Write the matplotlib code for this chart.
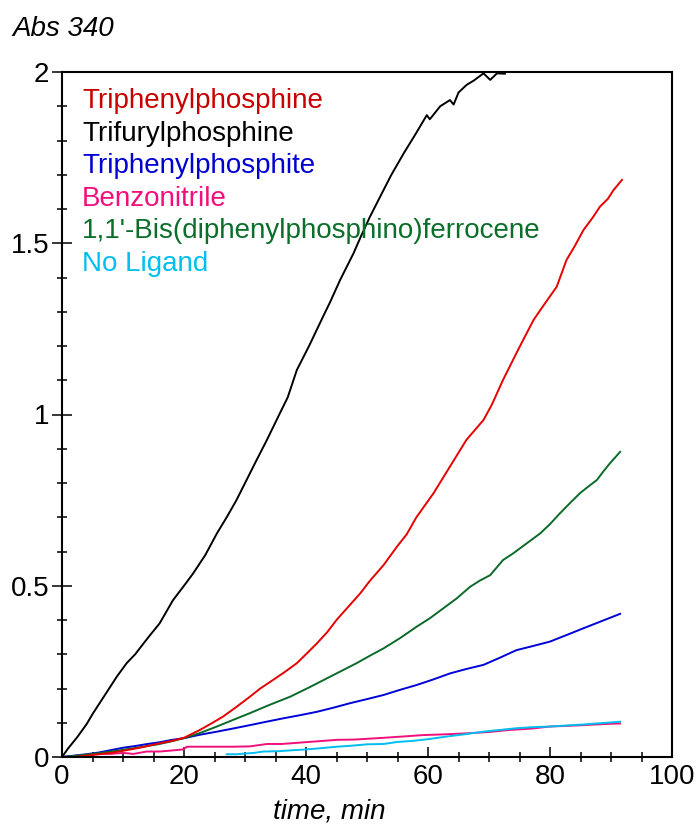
import numpy as np
import matplotlib.pyplot as plt
from matplotlib.ticker import MultipleLocator

plt.rcParams['font.family'] = ['Liberation Sans', 'DejaVu Sans']

# absorbance at 340 nm vs time for each ligand
t_pph3 = [0, 2, 4, 6, 8, 10, 13, 16, 18, 20, 22.6, 24.5, 26.4, 28.5, 30.8, 32.5, 34.6, 36.5, 38.5, 40,
          41.8, 43.5, 45, 47.2, 48.9, 50.5, 52.7, 54.9, 56.5, 58.1, 60.9, 63.6, 66.3, 69.1, 70.5, 72.3,
          74.8, 77.3, 79, 81.1, 82.7, 84, 85.5, 87, 88.2, 89.5, 90.4, 91.8]
a_pph3 = [0, 0, 0.004, 0.008, 0.012, 0.018, 0.028, 0.04, 0.047, 0.056, 0.079, 0.098, 0.118, 0.145, 0.176,
          0.2, 0.225, 0.248, 0.274, 0.3, 0.332, 0.365, 0.4, 0.444, 0.478, 0.515, 0.56, 0.614, 0.65, 0.7,
          0.77, 0.848, 0.926, 0.984, 1.03, 1.101, 1.19, 1.276, 1.32, 1.373, 1.451, 1.49, 1.539, 1.575,
          1.607, 1.63, 1.655, 1.685]

t_tfp = [0, 1, 2.5, 4, 5.1, 7, 9, 10.6, 12, 13.3, 14.4, 16, 18.2, 20, 21.5, 23.5, 25.4, 27, 28.6, 30.8,
         31.9, 33.6, 35.7, 37, 38.5, 40.5, 42.8, 44, 45.6, 47.8, 49, 50.5, 52.7, 54, 56, 58, 59.8, 60.3,
         62, 63.6, 64.2, 65, 66.3, 67.5, 69.1, 70.2, 71.3, 72.6]
a_tfp = [0, 0.025, 0.058, 0.095, 0.128, 0.18, 0.235, 0.274, 0.3, 0.33, 0.355, 0.39, 0.458, 0.5, 0.536,
         0.59, 0.653, 0.7, 0.75, 0.828, 0.867, 0.926, 1.003, 1.05, 1.13, 1.2, 1.286, 1.33, 1.393, 1.471,
         1.52, 1.578, 1.655, 1.7, 1.762, 1.82, 1.874, 1.862, 1.9, 1.918, 1.905, 1.94, 1.962, 1.975,
         1.996, 1.977, 1.996, 1.995]

t_pop3 = [0, 2, 4, 6, 8, 10, 12, 14, 16, 18, 20, 22.6, 25.4, 28, 30.8, 33.5, 36.3, 39, 41.8, 44.5, 47.2,
          50, 52.7, 55.4, 58.1, 60.8, 63.6, 66.3, 69.1, 71.8, 74.5, 77.2, 80, 82.7, 85.5, 88.5, 91.5]
a_pop3 = [0, 0.004, 0.008, 0.013, 0.02, 0.027, 0.032, 0.038, 0.043, 0.05, 0.055, 0.065, 0.074, 0.083,
          0.093, 0.103, 0.113, 0.122, 0.132, 0.144, 0.157, 0.169, 0.181, 0.196, 0.21, 0.226, 0.244,
          0.257, 0.269, 0.29, 0.312, 0.324, 0.337, 0.356, 0.376, 0.397, 0.418]

t_phcn = [0, 2, 4, 6.2, 8, 10, 11.7, 13.9, 16, 18, 19.8, 20.5, 25.4, 28, 30.8, 33.6, 36, 39, 42, 45, 48,
          52.7, 56, 59.2, 62.5, 66.3, 70, 73.4, 77, 80, 83, 85.5, 88.5, 91.5]
a_phcn = [0, 0.003, 0.006, 0.009, 0.009, 0.012, 0.009, 0.016, 0.016, 0.019, 0.022, 0.03, 0.03, 0.03,
          0.031, 0.038, 0.038, 0.042, 0.046, 0.05, 0.051, 0.056, 0.06, 0.064, 0.066, 0.069, 0.073,
          0.079, 0.083, 0.089, 0.091, 0.093, 0.096, 0.098]

t_dppf = [0, 2, 4, 6, 8, 10, 13, 16, 18, 20, 22.6, 25.4, 28, 30.8, 34, 37.4, 40.5, 43.9, 46, 48.3, 50.5,
          52.7, 55.5, 58.1, 60.3, 62.5, 64.7, 66.9, 68.5, 70.2, 72.3, 74, 76.2, 78.4, 80, 81.6, 83.2,
          84.9, 86.3, 87.7, 88.8, 89.8, 90.7, 91.5]
a_dppf = [0, 0.003, 0.007, 0.011, 0.016, 0.021, 0.029, 0.038, 0.046, 0.055, 0.07, 0.089, 0.108, 0.128,
          0.152, 0.176, 0.203, 0.234, 0.253, 0.274, 0.296, 0.317, 0.348, 0.38, 0.405, 0.434, 0.463,
          0.497, 0.515, 0.531, 0.575, 0.595, 0.624, 0.653, 0.68, 0.711, 0.74, 0.77, 0.79, 0.809, 0.835,
          0.857, 0.875, 0.891]

t_none = [27, 28.5, 30, 31.5, 33, 35.5, 38, 40, 42, 45, 47.5, 50, 52.7, 55, 57.5, 60, 63.6, 66.3, 69.1,
          71.8, 74.5, 77, 80, 82.7, 85.5, 88.5, 91.5]
a_none = [0.008, 0.008, 0.01, 0.012, 0.016, 0.017, 0.02, 0.022, 0.025, 0.03, 0.033, 0.037, 0.038, 0.044,
          0.047, 0.052, 0.061, 0.067, 0.074, 0.079, 0.084, 0.087, 0.089, 0.092, 0.095, 0.099, 0.103]

labels = ['Triphenylphosphine', 'Trifurylphosphine', 'Triphenylphosphite',
          'Benzonitrile', "1,1'-Bis(diphenylphosphino)ferrocene", 'No Ligand']
line_colors = ['#e60000', '#000000', '#0000d8', '#f0107c', '#0a6a28', '#00bff0']
text_colors = ['#c80000', '#000000', '#0000d0', '#f0107c', '#0b6e2a', '#00bff0']

fig = plt.figure(figsize=(6.96, 8.27), dpi=100)
ax = fig.add_axes([62 / 696, 70 / 827, 610 / 696, 685 / 827])

series = [(t_pph3, a_pph3), (t_tfp, a_tfp), (t_pop3, a_pop3),
          (t_phcn, a_phcn), (t_dppf, a_dppf), (t_none, a_none)]
order = [3, 5, 2, 4, 1, 0]
for i in order:
    t, a = series[i]
    ax.plot(t, a, color=line_colors[i], lw=1.4)

ax.set_xlim(0, 100)
ax.set_ylim(0, 2)
ax.xaxis.set_major_locator(MultipleLocator(20))
ax.xaxis.set_minor_locator(MultipleLocator(5))
ax.yaxis.set_major_locator(MultipleLocator(0.5))
ax.yaxis.set_minor_locator(MultipleLocator(0.1))
ax.yaxis.set_major_formatter(plt.FuncFormatter(lambda v, p: '%g' % v))

ax.tick_params(axis='x', which='major', direction='in', length=7.2, width=1.1, labelsize=20, pad=5)
ax.tick_params(axis='x', which='minor', direction='inout', length=7.2, width=1.1)
ax.tick_params(axis='y', which='major', direction='inout', length=14.4, width=1.1, labelsize=20, pad=2)
ax.tick_params(axis='y', which='minor', direction='inout', length=7.2, width=1.1)
for s in ax.spines.values():
    s.set_linewidth(1.5)

# coloured text key in the upper left
for k, lab in enumerate(labels):
    ax.text(0.0328, 0.947 - k * 0.04745, lab, color=text_colors[k], fontsize=20,
            transform=ax.transAxes, ha='left', va='baseline')

fig.text(12 / 696, 1 - 36 / 827, 'Abs 340', fontsize=20, style='italic', ha='left', va='baseline')
fig.text(329 / 696, 1 - 812 / 827, 'time, min', fontsize=20, style='italic', ha='center', va='center')

fig.savefig('out.png', dpi=100)
